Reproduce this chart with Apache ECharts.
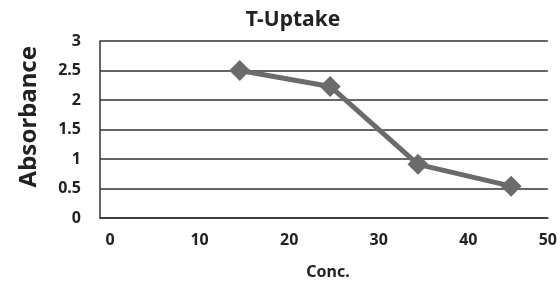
<!DOCTYPE html>
<html lang="en">
<head>
    <meta charset="UTF-8">
    <script src="https://cdn.jsdelivr.net/npm/echarts@6/dist/echarts.min.js"></script>
    <title>T-Uptake</title>
    <style>
        html, body { margin: 0; padding: 0; background: #fff; }
        #main { width: 560px; height: 285px; }
    </style>
</head>
<body>
    <div id="main"></div>
    <script type="text/javascript">
        // 数据
        var conc = [15.6, 25.7, 35.5, 45.9];
        var absorbance = [2.5, 2.23, 0.91, 0.54];
        var xTicks = [0, 10, 20, 30, 40, 50];
        var yTicks = [0, 0.5, 1, 1.5, 2, 2.5, 3];

        var font = '"Noto Sans", "Open Sans", sans-serif';
        var points = conc.map(function (c, i) { return [c, absorbance[i]]; });

        var myChart = echarts.init(document.getElementById('main'));
        var option = {
            animation: false,
            title: {
                text: 'T-Uptake',
                left: 288,
                top: 5,
                textAlign: 'center',
                textStyle: { fontFamily: font, fontSize: 21, fontWeight: 'bold', color: '#222' }
            },
            grid: { left: 100, right: 12, top: 41, bottom: 59 },
            xAxis: {
                type: 'value',
                min: 0,
                max: 50,
                interval: 10,
                name: 'Conc.',
                nameLocation: 'middle',
                nameGap: 46,
                nameTextStyle: { fontFamily: font, fontSize: 16, fontWeight: 'bold', color: '#222', padding: [0, 0, 0, 8] },
                axisLine: { show: true, lineStyle: { color: '#333', width: 1.5 } },
                axisTick: { show: false },
                splitLine: { show: false },
                axisLabel: {
                    margin: 14,
                    formatter: function (v) {
                        return xTicks.indexOf(v) < 0 ? '' : (v === 50 ? '{e|' + v + '}' : '{n|' + v + '}');
                    },
                    rich: {
                        n: { fontFamily: font, fontSize: 16, fontWeight: 'bold', color: '#222', padding: [0, 0, 0, 20] },
                        e: { fontFamily: font, fontSize: 16, fontWeight: 'bold', color: '#222', padding: [0, 0, 0, 0] }
                    }
                }
            },
            yAxis: {
                type: 'value',
                min: 0,
                max: 3,
                interval: 0.5,
                axisLine: { show: true, lineStyle: { color: '#333', width: 1.5 } },
                axisTick: { show: false },
                splitLine: { show: true, lineStyle: { color: '#333', width: 1.5 } },
                axisLabel: {
                    margin: 19,
                    fontFamily: font, fontSize: 16, fontWeight: 'bold', color: '#222',
                    formatter: function (v) { return yTicks.indexOf(v) < 0 ? '' : String(v); }
                }
            },
            graphic: [{
                type: 'text',
                left: 17,
                top: 46,
                rotation: Math.PI / 2,
                style: {
                    text: 'Absorbance',
                    fontFamily: font, fontSize: 24, fontWeight: 'bold', fill: '#222'
                }
            }],
            series: [{
                type: 'line',
                data: points,
                symbol: 'diamond',
                symbolSize: 21,
                lineStyle: { color: '#6b6b6b', width: 5 },
                itemStyle: { color: '#6b6b6b' }
            }]
        };
        myChart.setOption(option);
    </script>
</body>
</html>
